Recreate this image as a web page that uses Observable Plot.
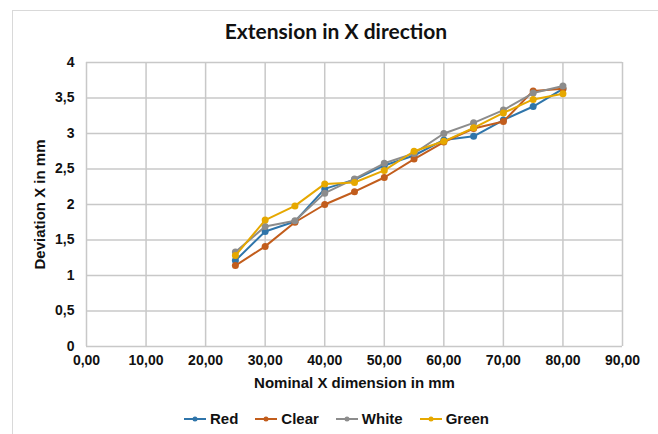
<!DOCTYPE html>
<html><head><meta charset="utf-8">
<script src="https://cdn.jsdelivr.net/npm/d3@7"></script>
<script src="https://cdn.jsdelivr.net/npm/@observablehq/plot@0.6"></script>
<style>
body{margin:0;background:#fff;}
#wrap{position:relative;width:658px;height:434px;overflow:hidden;font-family:"Liberation Sans",Arial,sans-serif;background:#fff;}
#frame{position:absolute;left:12px;top:10px;width:660px;height:440px;border-left:1px solid #d9d9d9;border-top:1px solid #d9d9d9;}
#title{position:absolute;top:18px;left:7px;width:658px;text-align:center;font:bold 21px Lato,"Open Sans",sans-serif;color:#111;}
#chart{position:absolute;top:50px;left:0;}
#chart g[aria-label="x-axis label"] text,#chart g[aria-label="y-axis label"] text{font-size:15px;}
#legend{position:absolute;top:410px;left:7px;width:658px;display:flex;justify-content:center;gap:16px;font:bold 15px "Liberation Sans",Arial,sans-serif;color:#111;}
#legend .it{display:flex;align-items:center;gap:3px;}
</style></head>
<body><div id="wrap"><div id="frame"></div><div id="title">Extension in X direction</div><div id="chart"></div><div id="legend"></div></div>
<script>
const xs = [25,30,35,40,45,50,55,60,65,70,75,80];
const seriesNames = ["Red","Clear","White","Green"];
const seriesColors = ["#2f75aa","#c25d1c","#8c8c8c","#e6a800"];
const red   = [1.21,1.62,1.76,2.22,2.35,2.55,2.69,2.91,2.96,3.19,3.38,3.63];
const clear = [1.14,1.41,1.75,2.00,2.18,2.38,2.64,2.88,3.07,3.17,3.60,3.63];
const white = [1.33,1.69,1.77,2.16,2.36,2.58,2.72,3.00,3.15,3.33,3.57,3.67];
const green = [1.28,1.78,1.98,2.29,2.31,2.48,2.75,2.89,3.08,3.29,3.48,3.56];
const xTicks = [0,10,20,30,40,50,60,70,80,90];
const yTicks = [0,0.5,1,1.5,2,2.5,3,3.5,4];

const values = [red, clear, white, green];
const data = [];
seriesNames.forEach((s,i)=>values[i].forEach((v,j)=>data.push({series:s, x:xs[j], y:v})));

const marks = [
  Plot.gridX(xTicks,{stroke:"#c8c8c8",strokeOpacity:1,strokeWidth:1.5}),
  Plot.gridY(yTicks,{stroke:"#c8c8c8",strokeOpacity:1,strokeWidth:1.5}),
  Plot.axisX({ticks:xTicks,tickSize:0,tickPadding:9,tickFormat:d=>d.toFixed(2).replace(".",","),label:"Nominal X dimension in mm",labelAnchor:"center",labelArrow:"none",labelOffset:41}),
  Plot.axisY({ticks:yTicks,tickSize:0,tickPadding:12,tickFormat:d=>String(d).replace(".",","),label:"Deviation X in mm",labelAnchor:"center",labelArrow:"none",labelOffset:52})
];
seriesNames.forEach((s,i)=>{
  const d = data.filter(r=>r.series===s);
  marks.push(Plot.line(d,{x:"x",y:"y",stroke:seriesColors[i],strokeWidth:2}));
  marks.push(Plot.dot(d,{x:"x",y:"y",fill:seriesColors[i],r:3.5}));
});

const chart = Plot.plot({
  width:658, height:345,
  marginLeft:86, marginRight:36, marginTop:12, marginBottom:49,
  x:{domain:[0,90]},
  y:{domain:[0,4]},
  style:{fontFamily:"'Liberation Sans',Arial,sans-serif",fontSize:"14px",fontWeight:"bold",color:"#111",background:"transparent",overflow:"visible"},
  marks
});
document.getElementById("chart").appendChild(chart);

const lg = document.getElementById("legend");
seriesNames.forEach((s,i)=>{
  const it = document.createElement("div"); it.className="it";
  it.innerHTML = `<svg width="24" height="10"><line x1="1" x2="23" y1="5" y2="5" stroke="${seriesColors[i]}" stroke-width="2"/><circle cx="12" cy="5" r="2.5" fill="${seriesColors[i]}"/></svg><span>${s}</span>`;
  lg.appendChild(it);
});
</script></body></html>
